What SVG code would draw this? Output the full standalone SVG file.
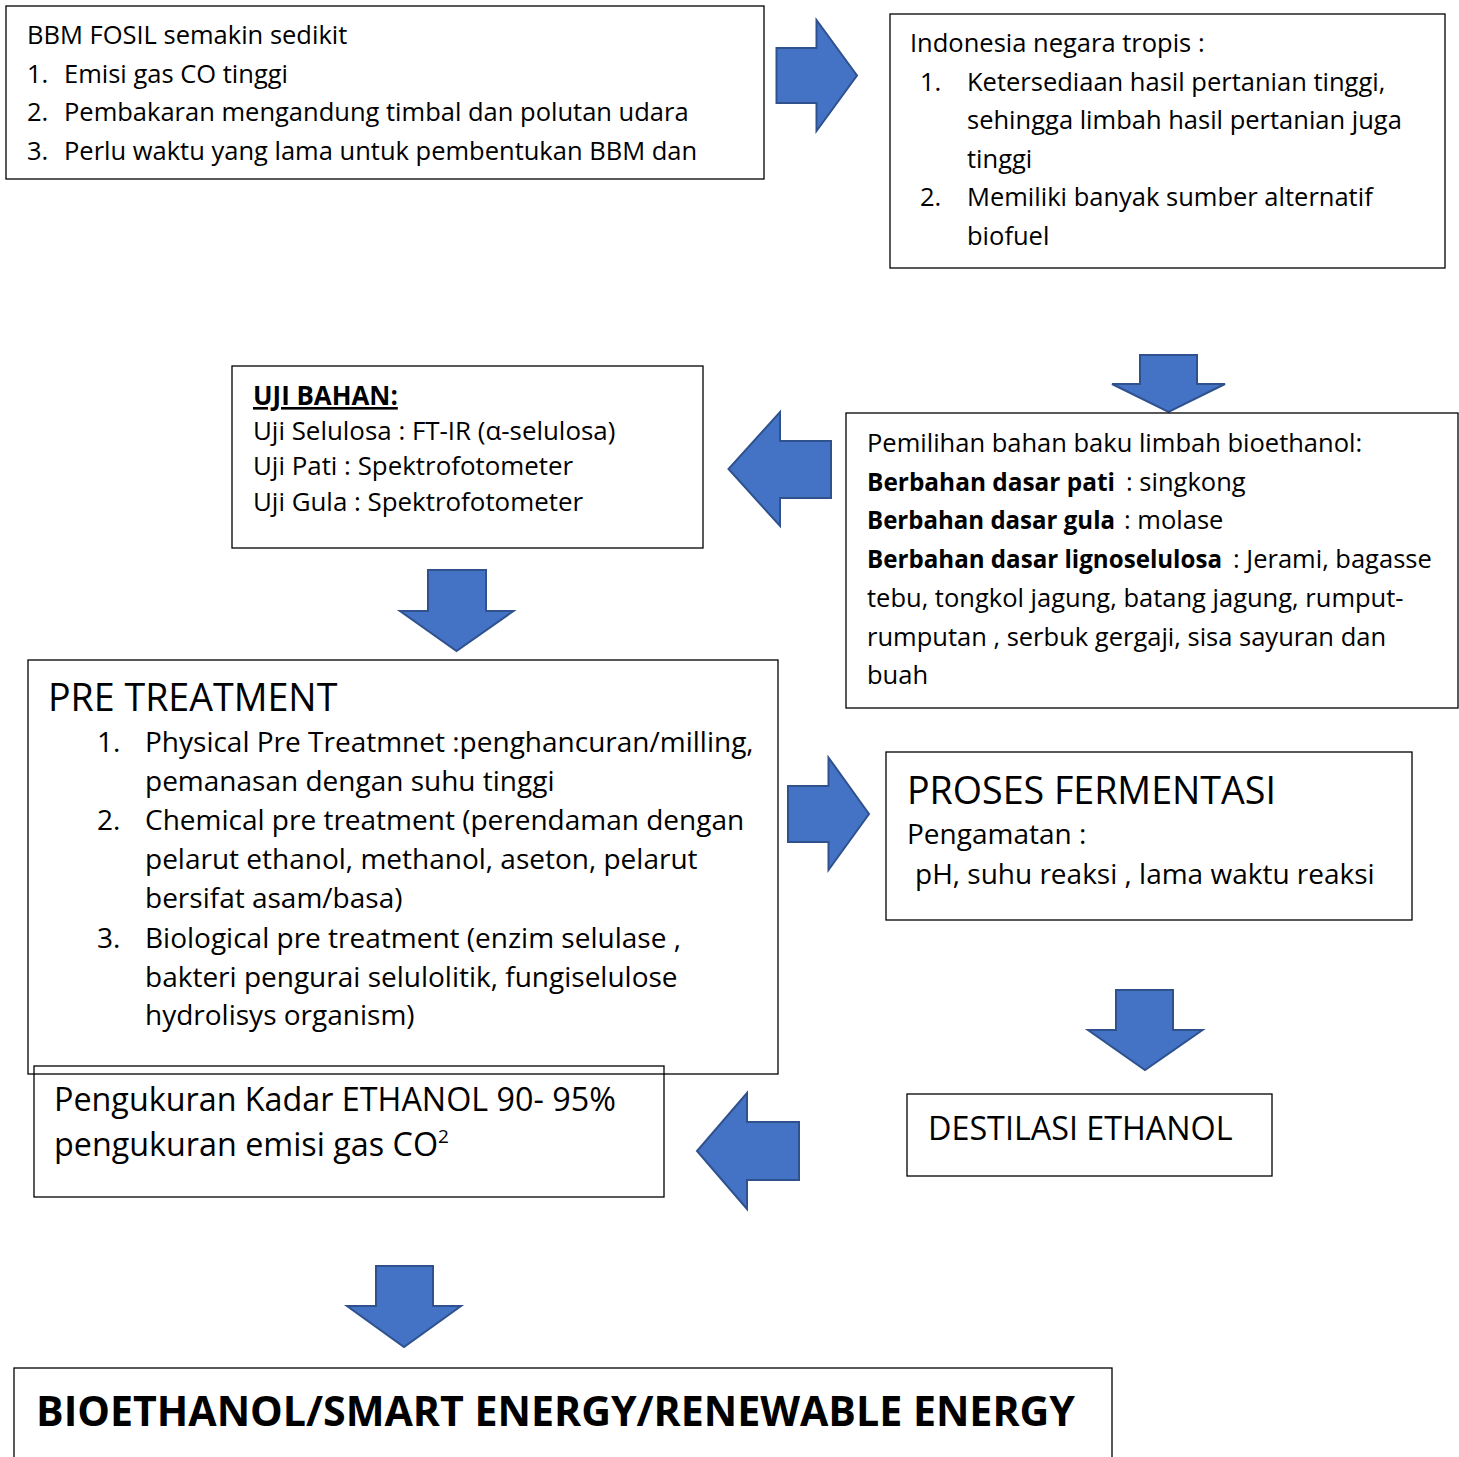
<svg xmlns="http://www.w3.org/2000/svg" width="1459" height="1457" viewBox="0 0 1459 1457">
<style>
.t{font-family:"Open Sans","Noto Sans",sans-serif;font-size:25.5px;fill:#000}
.b{font-weight:bold}
.l{font-size:37.6px}
.m{font-size:32.3px}
.p{font-size:28px}
.u{font-size:25.9px}
.h{font-size:42px}
.box{fill:none;stroke:#000;stroke-width:1.3}
.arr{fill:#4472C4;stroke:#2F528F;stroke-width:2}
</style>
<rect width="1459" height="1457" fill="#fff"/>
<g id="connectors">
<path class="arr" d="M776.5,48 L816.5,48 L816.5,20 L857,75.5 L816.5,131 L816.5,103 L776.5,103 Z"/>
<path class="arr" d="M1140,355 L1197,355 L1197,384 L1225,384 L1168.5,412 L1112,384 L1140,384 Z"/>
<path class="arr" d="M831,441 L780,441 L780,412 L728.5,469 L780,526 L780,498 L831,498 Z"/>
<path class="arr" d="M428,570 L486,570 L486,611 L513.5,611 L456.5,651 L400,611 L428,611 Z"/>
<path class="arr" d="M788,786 L828.5,786 L828.5,757.5 L869,814 L828.5,870 L828.5,842 L788,842 Z"/>
<path class="arr" d="M1116,990 L1173,990 L1173,1030 L1202.5,1030 L1145,1070 L1088,1030 L1116,1030 Z"/>
<path class="arr" d="M799,1122 L747,1122 L747,1093 L697,1151 L747,1209 L747,1180 L799,1180 Z"/>
<path class="arr" d="M376,1266 L433,1266 L433,1306 L461,1306 L404,1347 L347,1306 L376,1306 Z"/>
</g>
<g id="n1">
<rect class="box" x="6" y="6" width="758" height="173"/>
<text class="t" x="27" y="44">BBM FOSIL semakin sedikit</text>
<text class="t" x="27" y="83">1.</text><text class="t" x="64" y="83">Emisi gas CO tinggi</text>
<text class="t" x="27" y="121">2.</text><text class="t" x="64" y="121">Pembakaran mengandung timbal dan polutan udara</text>
<text class="t" x="27" y="160">3.</text><text class="t" x="64" y="160">Perlu waktu yang lama untuk pembentukan BBM dan</text>
</g>
<g id="n2">
<rect class="box" x="890" y="14" width="555" height="254"/>
<text class="t" x="910" y="52">Indonesia negara tropis :</text>
<text class="t" x="920" y="91">1.</text><text class="t" x="967" y="91">Ketersediaan hasil pertanian tinggi,</text>
<text class="t" x="967" y="129">sehingga limbah hasil pertanian juga</text>
<text class="t" x="967" y="168">tinggi</text>
<text class="t" x="920" y="206">2.</text><text class="t" x="967" y="206">Memiliki banyak sumber alternatif</text>
<text class="t" x="967" y="245">biofuel</text>
</g>
<g id="n3">
<rect class="box" x="232" y="366" width="471" height="182"/>
<text class="t u b" x="253" y="405" text-decoration="underline">UJI BAHAN:</text>
<text class="t u" x="253" y="440">Uji Selulosa : FT-IR (α-selulosa)</text>
<text class="t u" x="253" y="475">Uji Pati : Spektrofotometer</text>
<text class="t u" x="253" y="511">Uji Gula : Spektrofotometer</text>
</g>
<g id="n4">
<rect class="box" x="846" y="413" width="612" height="295"/>
<text class="t" x="867" y="452">Pemilihan bahan baku limbah bioethanol:</text>
<text class="t b" x="867" y="491" textLength="248" lengthAdjust="spacingAndGlyphs">Berbahan dasar pati</text>
<text class="t" x="1126" y="491">: singkong</text>
<text class="t b" x="867" y="529" textLength="248" lengthAdjust="spacingAndGlyphs">Berbahan dasar gula</text>
<text class="t" x="1124" y="529">: molase</text>
<text class="t b" x="867" y="568" textLength="355" lengthAdjust="spacingAndGlyphs">Berbahan dasar lignoselulosa</text>
<text class="t" x="1233" y="568">: Jerami, bagasse</text>
<text class="t" x="867" y="607">tebu, tongkol jagung, batang jagung, rumput-</text>
<text class="t" x="867" y="646">rumputan , serbuk gergaji, sisa sayuran dan</text>
<text class="t" x="867" y="684">buah</text>
</g>
<g id="n5">
<rect class="box" x="28" y="660" width="750" height="414"/>
<text class="t l" x="48" y="711">PRE TREATMENT</text>
<text class="t p" x="97" y="752">1.</text><text class="t p" x="145" y="752">Physical Pre Treatmnet :penghancuran/milling,</text>
<text class="t p" x="145" y="791">pemanasan dengan suhu tinggi</text>
<text class="t p" x="97" y="830">2.</text><text class="t p" x="145" y="830">Chemical pre treatment (perendaman dengan</text>
<text class="t p" x="145" y="869">pelarut ethanol, methanol, aseton, pelarut</text>
<text class="t p" x="145" y="908">bersifat asam/basa)</text>
<text class="t p" x="97" y="948">3.</text><text class="t p" x="145" y="948">Biological pre treatment (enzim selulase ,</text>
<text class="t p" x="145" y="987">bakteri pengurai selulolitik, fungiselulose</text>
<text class="t p" x="145" y="1025">hydrolisys organism)</text>
</g>
<g id="n6">
<rect class="box" x="886" y="752" width="526" height="168"/>
<text class="t l" x="907" y="804">PROSES FERMENTASI</text>
<text class="t p" x="907" y="844">Pengamatan :</text>
<text class="t p" x="915" y="884">pH, suhu reaksi , lama waktu reaksi</text>
</g>
<g id="n7">
<rect class="box" x="34" y="1066" width="630" height="131"/>
<text class="t m" x="54" y="1111">Pengukuran Kadar ETHANOL 90- 95%</text>
<text class="t m" x="54" y="1156">pengukuran emisi gas CO<tspan font-size="19" dy="-13">2</tspan></text>
</g>
<g id="n8">
<rect class="box" x="907" y="1094" width="365" height="82"/>
<text class="t m" x="928" y="1140">DESTILASI ETHANOL</text>
</g>
<g id="n9">
<rect class="box" x="14" y="1368" width="1098" height="100"/>
<text class="t b h" x="36" y="1426" textLength="1039" lengthAdjust="spacingAndGlyphs">BIOETHANOL/SMART ENERGY/RENEWABLE ENERGY</text>
</g>
</svg>
